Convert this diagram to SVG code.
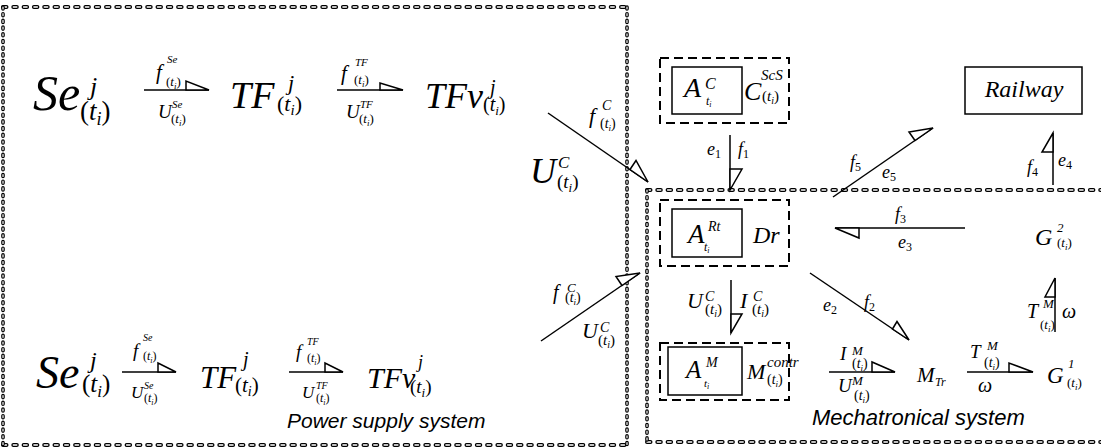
<svg xmlns="http://www.w3.org/2000/svg" width="1101" height="448" viewBox="0 0 1101 448">
<style>
.m{font-family:"Liberation Serif","Times New Roman",serif;font-style:italic;fill:#000}
.u{font-style:normal}
.s{font-family:"Liberation Sans",Arial,sans-serif;font-style:italic;fill:#000}
.hb{stroke:#000;stroke-width:4;stroke-linecap:round;stroke-dasharray:3.5 6.8;fill:none}
.hw{stroke:#fff;stroke-width:1.4;stroke-linecap:round;stroke-dasharray:3.5 6.8;fill:none}
.vb{stroke:#000;stroke-width:3.6;stroke-linecap:round;stroke-dasharray:2 4.7;fill:none}
.vw{stroke:#fff;stroke-width:1.2;stroke-linecap:round;stroke-dasharray:2 4.7;fill:none}
.db{stroke:#000;stroke-width:2;stroke-dasharray:9 5;fill:none}
.sb{stroke:#000;stroke-width:1.5;fill:none}
.ln{stroke:#000;stroke-width:1.5;fill:none}
.ha{stroke:#000;stroke-width:1.5;fill:#fff;stroke-linejoin:miter}
</style>

<g id="frames">
  <path class="hb" d="M3 7H627M3 445H627M647 190H1101M647 442H1101"/>
  <path class="hw" d="M3 7H627M3 445H627M647 190H1101M647 442H1101"/>
  <path class="vb" d="M3 7V445M627 7V445M647 190V442"/>
  <path class="vw" d="M3 7V445M627 7V445M647 190V442"/>
</g>

<g id="node-se-top">
  <text class="m" x="33" y="110" font-size="50">Se</text>
  <text class="m" x="90" y="95" font-size="26">j</text>
  <text class="m" x="80" y="120" font-size="27"><tspan class="u">(</tspan>t<tspan font-size="18" dy="5">i</tspan><tspan class="u" dy="-5">)</tspan></text>
</g>
<g id="node-tf-top">
  <text class="m" x="230" y="108" font-size="38">TF</text>
  <text class="m" x="288" y="90" font-size="22">j</text>
  <text class="m" x="277" y="111" font-size="22"><tspan class="u">(</tspan>t<tspan font-size="15" dy="4">i</tspan><tspan class="u" dy="-4">)</tspan></text>
</g>
<g id="node-tfv-top">
  <text class="m" x="425" y="108" font-size="36">TFv</text>
  <text class="m" x="490" y="94" font-size="20">j</text>
  <text class="m" x="483" y="111" font-size="20"><tspan class="u">(</tspan>t<tspan font-size="13" dy="4">i</tspan><tspan class="u" dy="-4">)</tspan></text>
</g>

<g id="node-se-bottom">
  <text class="m" x="36" y="388" font-size="46">Se</text>
  <text class="m" x="90" y="368" font-size="24">j</text>
  <text class="m" x="82" y="392" font-size="25"><tspan class="u">(</tspan>t<tspan font-size="17" dy="5">i</tspan><tspan class="u" dy="-5">)</tspan></text>
</g>
<g id="node-tf-bottom">
  <text class="m" x="200" y="388" font-size="31">TF</text>
  <text class="m" x="243" y="366" font-size="20">j</text>
  <text class="m" x="235" y="392" font-size="21"><tspan class="u">(</tspan>t<tspan font-size="14" dy="4">i</tspan><tspan class="u" dy="-4">)</tspan></text>
</g>
<g id="node-tfv-bottom">
  <text class="m" x="367" y="388" font-size="30">TFv</text>
  <text class="m" x="418" y="368" font-size="18">j</text>
  <text class="m" x="410" y="393" font-size="19"><tspan class="u">(</tspan>t<tspan font-size="13" dy="4">i</tspan><tspan class="u" dy="-4">)</tspan></text>
</g>

<g id="node-ac">
  <rect class="db" x="660" y="58" width="129" height="65"/>
  <rect class="sb" x="672" y="67" width="70" height="47"/>
  <text class="m" x="684" y="97" font-size="28">A</text>
  <text class="m" x="705" y="89" font-size="16">C</text>
  <text class="m" x="706" y="105" font-size="12">t<tspan font-size="8" dy="2">i</tspan></text>
  <text class="m" x="744" y="100" font-size="26">C</text>
  <text class="m" x="761" y="80" font-size="15">ScS</text>
  <text class="m" x="762" y="101" font-size="15"><tspan class="u">(</tspan>t<tspan font-size="10" dy="3">i</tspan><tspan class="u" dy="-3">)</tspan></text>
</g>

<g id="node-railway">
  <rect class="sb" x="965" y="67" width="117" height="47"/>
  <text class="m" x="1024" y="97" font-size="24" text-anchor="middle">Railway</text>
</g>

<g id="node-dr">
  <rect class="db" x="660" y="200" width="129" height="66"/>
  <rect class="sb" x="672" y="209" width="70" height="48"/>
  <text class="m" x="688" y="243" font-size="27">A</text>
  <text class="m" x="708" y="231" font-size="14">Rt</text>
  <text class="m" x="704" y="251" font-size="12">t<tspan font-size="8" dy="2">i</tspan></text>
  <text class="m" x="753" y="243" font-size="24">Dr</text>
</g>

<g id="node-motor">
  <rect class="db" x="660" y="343" width="129" height="57"/>
  <rect class="sb" x="668" y="347" width="74" height="48"/>
  <text class="m" x="686" y="378" font-size="25">A</text>
  <text class="m" x="706" y="367" font-size="14">M</text>
  <text class="m" x="704" y="387" font-size="11">t<tspan font-size="8" dy="2">i</tspan></text>
  <text class="m" x="747" y="379" font-size="22">M</text>
  <text class="m" x="767" y="367" font-size="15">contr</text>
  <text class="m" x="767" y="384" font-size="14"><tspan class="u">(</tspan>t<tspan font-size="9" dy="3">i</tspan><tspan class="u" dy="-3">)</tspan></text>
</g>

<g id="node-g2">
  <text class="m" x="1035" y="245" font-size="24">G</text>
  <text class="m" x="1057" y="232" font-size="13">2</text>
  <text class="m" x="1057" y="247" font-size="13"><tspan class="u">(</tspan>t<tspan font-size="9" dy="3">i</tspan><tspan class="u" dy="-3">)</tspan></text>
</g>
<g id="node-mtr">
  <text class="m" x="917" y="382" font-size="21">M</text>
  <text class="m" x="935" y="386" font-size="12">Tr</text>
</g>
<g id="node-g1">
  <text class="m" x="1047" y="383" font-size="23">G</text>
  <text class="m" x="1068" y="368" font-size="13">1</text>
  <text class="m" x="1067" y="387" font-size="13"><tspan class="u">(</tspan>t<tspan font-size="9" dy="3">i</tspan><tspan class="u" dy="-3">)</tspan></text>
</g>

<g id="labels">
  <text class="s" x="287" y="428" font-size="21">Power supply system</text>
  <text class="s" x="812" y="425" font-size="22">Mechatronical system</text>
</g>

<g id="connectors">
  <path class="ln" d="M144 90H209"/>
  <polygon class="ha" points="186,81 186,90 209,90"/>
  <text class="m" x="156" y="79" font-size="21">f</text>
  <text class="m" x="167" y="63" font-size="11">Se</text>
  <text class="m" x="166" y="86" font-size="13"><tspan class="u">(</tspan>t<tspan font-size="9" dy="3">i</tspan><tspan class="u" dy="-3">)</tspan></text>
  <text class="m" x="158" y="118" font-size="19">U</text>
  <text class="m" x="172" y="108" font-size="11">Se</text>
  <text class="m" x="171" y="123" font-size="13"><tspan class="u">(</tspan>t<tspan font-size="9" dy="3">i</tspan><tspan class="u" dy="-3">)</tspan></text>

  <path class="ln" d="M337 90H403"/>
  <polygon class="ha" points="380,83 380,90 403,90"/>
  <text class="m" x="341" y="80" font-size="21">f</text>
  <text class="m" x="355" y="66" font-size="11">TF</text>
  <text class="m" x="354" y="84" font-size="13"><tspan class="u">(</tspan>t<tspan font-size="9" dy="3">i</tspan><tspan class="u" dy="-3">)</tspan></text>
  <text class="m" x="346" y="118" font-size="19">U</text>
  <text class="m" x="360" y="108" font-size="11">TF</text>
  <text class="m" x="359" y="123" font-size="13"><tspan class="u">(</tspan>t<tspan font-size="9" dy="3">i</tspan><tspan class="u" dy="-3">)</tspan></text>

  <path class="ln" d="M122 372H176"/>
  <polygon class="ha" points="158,363 158,372 176,372"/>
  <text class="m" x="133" y="357" font-size="19">f</text>
  <text class="m" x="143" y="341" font-size="10">Se</text>
  <text class="m" x="143" y="360" font-size="12"><tspan class="u">(</tspan>t<tspan font-size="8" dy="3">i</tspan><tspan class="u" dy="-3">)</tspan></text>
  <text class="m" x="131" y="398" font-size="17">U</text>
  <text class="m" x="144" y="389" font-size="10">Se</text>
  <text class="m" x="144" y="402" font-size="12"><tspan class="u">(</tspan>t<tspan font-size="8" dy="3">i</tspan><tspan class="u" dy="-3">)</tspan></text>

  <path class="ln" d="M289 372H343"/>
  <polygon class="ha" points="325,363 325,372 343,372"/>
  <text class="m" x="296" y="358" font-size="19">f</text>
  <text class="m" x="307" y="345" font-size="10">TF</text>
  <text class="m" x="307" y="362" font-size="12"><tspan class="u">(</tspan>t<tspan font-size="8" dy="3">i</tspan><tspan class="u" dy="-3">)</tspan></text>
  <text class="m" x="302" y="398" font-size="17">U</text>
  <text class="m" x="316" y="389" font-size="10">TF</text>
  <text class="m" x="316" y="402" font-size="12"><tspan class="u">(</tspan>t<tspan font-size="8" dy="3">i</tspan><tspan class="u" dy="-3">)</tspan></text>

  <path class="ln" d="M548 113L648 182"/>
  <polygon class="ha" points="630,169.5 636,160.5 648,182"/>
  <text class="m" x="589" y="123" font-size="22">f</text>
  <text class="m" x="602" y="110" font-size="14">C</text>
  <text class="m" x="600" y="128" font-size="14"><tspan class="u">(</tspan>t<tspan font-size="9" dy="3">i</tspan><tspan class="u" dy="-3">)</tspan></text>
  <text class="m" x="530" y="183" font-size="36">U</text>
  <text class="m" x="558" y="168" font-size="17">C</text>
  <text class="m" x="557" y="188" font-size="19"><tspan class="u">(</tspan>t<tspan font-size="13" dy="4">i</tspan><tspan class="u" dy="-4">)</tspan></text>

  <path class="ln" d="M541 341L640 273"/>
  <polygon class="ha" points="622,285.5 616,276.5 640,273"/>
  <text class="m" x="553" y="299" font-size="20">f</text>
  <text class="m" x="567" y="292" font-size="13">C</text>
  <text class="m" x="565" y="302" font-size="14"><tspan class="u">(</tspan>t<tspan font-size="9" dy="3">i</tspan><tspan class="u" dy="-3">)</tspan></text>
  <text class="m" x="582" y="338" font-size="22">U</text>
  <text class="m" x="600" y="332" font-size="14">C</text>
  <text class="m" x="598" y="345" font-size="15"><tspan class="u">(</tspan>t<tspan font-size="10" dy="3">i</tspan><tspan class="u" dy="-3">)</tspan></text>

  <path class="ln" d="M730 135V190"/>
  <polygon class="ha" points="730,169 742,169 730,190"/>
  <text class="m" x="707" y="155" font-size="18">e<tspan class="u" font-size="12" dy="3">1</tspan></text>
  <text class="m" x="738" y="155" font-size="18">f<tspan class="u" font-size="12" dy="3">1</tspan></text>

  <path class="ln" d="M833 197L933 128"/>
  <polygon class="ha" points="915,140.5 909,132 933,128"/>
  <text class="m" x="850" y="168" font-size="18">f<tspan class="u" font-size="12" dy="3">5</tspan></text>
  <text class="m" x="882" y="178" font-size="18">e<tspan class="u" font-size="12" dy="3">5</tspan></text>

  <path class="ln" d="M1053 133V185"/>
  <polygon class="ha" points="1053,133 1042,152 1053,152"/>
  <text class="m" x="1027" y="173" font-size="18">f<tspan class="u" font-size="12" dy="3">4</tspan></text>
  <text class="m" x="1058" y="166" font-size="18">e<tspan class="u" font-size="12" dy="3">4</tspan></text>

  <path class="ln" d="M835 228H965"/>
  <polygon class="ha" points="835,228 859,238 859,228"/>
  <text class="m" x="895" y="220" font-size="18">f<tspan class="u" font-size="12" dy="3">3</tspan></text>
  <text class="m" x="898" y="248" font-size="18">e<tspan class="u" font-size="12" dy="3">3</tspan></text>

  <path class="ln" d="M731 280V333"/>
  <polygon class="ha" points="731,314 742,314 731,333"/>
  <text class="m" x="687" y="308" font-size="22">U</text>
  <text class="m" x="705" y="301" font-size="14">C</text>
  <text class="m" x="705" y="314" font-size="15"><tspan class="u">(</tspan>t<tspan font-size="10" dy="3">i</tspan><tspan class="u" dy="-3">)</tspan></text>
  <text class="m" x="740" y="308" font-size="22">I</text>
  <text class="m" x="753" y="301" font-size="14">C</text>
  <text class="m" x="752" y="314" font-size="15"><tspan class="u">(</tspan>t<tspan font-size="10" dy="3">i</tspan><tspan class="u" dy="-3">)</tspan></text>

  <path class="ln" d="M810 273L909 340"/>
  <polygon class="ha" points="892.5,329 897,321.5 909,340"/>
  <text class="m" x="823" y="311" font-size="18">e<tspan class="u" font-size="12" dy="3">2</tspan></text>
  <text class="m" x="864" y="308" font-size="18">f<tspan class="u" font-size="12" dy="3">2</tspan></text>

  <path class="ln" d="M1055 278V332"/>
  <polygon class="ha" points="1055,278 1045,297 1055,297"/>
  <text class="m" x="1027" y="318" font-size="20">T</text>
  <text class="m" x="1043" y="308" font-size="13">M</text>
  <text class="m" x="1040" y="329" font-size="13"><tspan class="u">(</tspan>t<tspan font-size="9" dy="3">i</tspan><tspan class="u" dy="-3">)</tspan></text>
  <text class="m" x="1062" y="318" font-size="20">ω</text>

  <path class="ln" d="M829 372H895"/>
  <polygon class="ha" points="872,362 872,372 895,372"/>
  <text class="m" x="840" y="360" font-size="19">I</text>
  <text class="m" x="852" y="355" font-size="13">M</text>
  <text class="m" x="852" y="368" font-size="14"><tspan class="u">(</tspan>t<tspan font-size="9" dy="3">i</tspan><tspan class="u" dy="-3">)</tspan></text>
  <text class="m" x="838" y="392" font-size="19">U</text>
  <text class="m" x="852" y="385" font-size="13">M</text>
  <text class="m" x="854" y="400" font-size="14"><tspan class="u">(</tspan>t<tspan font-size="9" dy="3">i</tspan><tspan class="u" dy="-3">)</tspan></text>

  <path class="ln" d="M967 372H1033"/>
  <polygon class="ha" points="1009,363 1009,372 1033,372"/>
  <text class="m" x="970" y="358" font-size="19">T</text>
  <text class="m" x="987" y="350" font-size="13">M</text>
  <text class="m" x="984" y="367" font-size="14"><tspan class="u">(</tspan>t<tspan font-size="9" dy="3">i</tspan><tspan class="u" dy="-3">)</tspan></text>
  <text class="m" x="978" y="392" font-size="20">ω</text>
</g>
</svg>
